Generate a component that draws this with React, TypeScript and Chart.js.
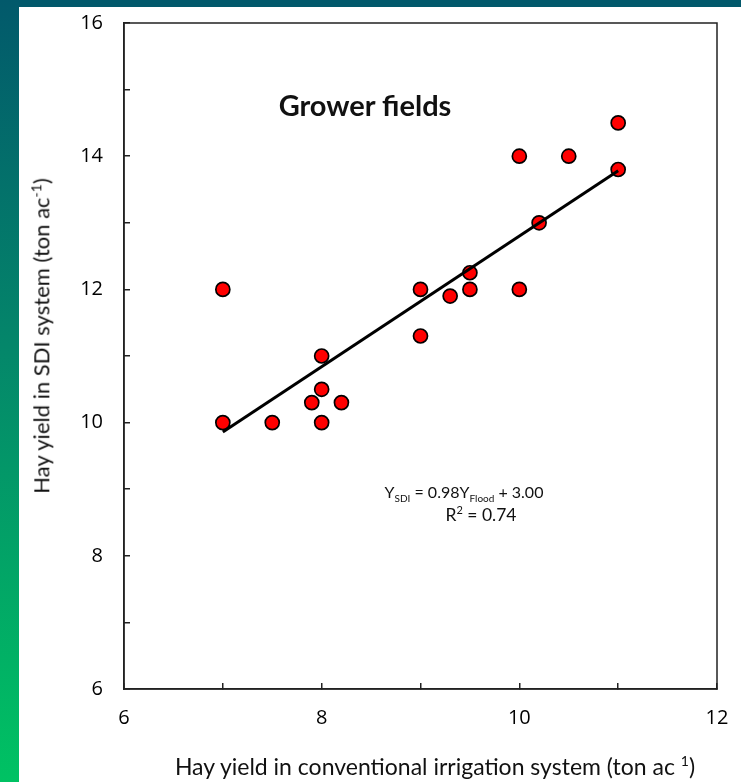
import React, { useEffect, useRef } from "react";
import { Chart, registerables } from "chart.js";

Chart.register(...registerables);

const flood = [7, 7, 7.5, 7.9, 8, 8, 8, 8.2, 9, 9, 9.3, 9.5, 9.5, 10, 10, 10.2, 10.5, 11, 11];
const sdi = [12, 10, 10, 10.3, 10, 10.5, 11, 10.3, 12, 11.3, 11.9, 12, 12.25, 12, 14, 13, 14, 14.5, 13.8];
const trendX = [7, 11];
const trendY = [9.86, 13.78];
const xTicks = [6, 8, 10, 12];
const yTicks = [6, 8, 10, 12, 14, 16];

const framePlugin = {
  id: "frame",
  afterDraw(chart: any) {
    const { ctx, chartArea } = chart;
    ctx.save();
    ctx.strokeStyle = "#222";
    ctx.lineWidth = 1.5;
    ctx.strokeRect(chartArea.left, chartArea.top, chartArea.right - chartArea.left, chartArea.bottom - chartArea.top);
    ctx.restore();
  },
};

export default function App() {
  const ref = useRef<HTMLCanvasElement>(null);
  useEffect(() => {
    const points = flood.map((x, i) => ({ x, y: sdi[i] }));
    const trend = trendX.map((x, i) => ({ x, y: trendY[i] }));
    const tickFont = { family: "Open Sans", size: 20 };
    const chart = new Chart(ref.current as HTMLCanvasElement, {
      type: "scatter",
      data: {
        datasets: [
          {
            type: "line",
            data: trend,
            borderColor: "#000",
            borderWidth: 3,
            pointRadius: 0,
            fill: false,
          },
          {
            data: points,
            backgroundColor: "#ff0000",
            borderColor: "#000",
            borderWidth: 1.7,
            pointRadius: 7,
          },
        ],
      } as any,
      options: {
        animation: false,
        responsive: false,
        layout: { padding: { left: 19, top: 23, right: 24, bottom: 0 } },
        plugins: { legend: { display: false }, tooltip: { enabled: false } },
        scales: {
          x: {
            type: "linear",
            min: 6,
            max: 12,
            afterFit: (s: any) => {
              s.height = 93;
              s.paddingLeft = 0;
              s.paddingRight = 0;
            },
            afterBuildTicks: (s: any) => {
              const t = [];
              for (let v = 6; v <= 12; v += 1) t.push({ value: v });
              s.ticks = t;
            },
            ticks: {
              font: tickFont,
              color: "#000",
              padding: 23,
              maxRotation: 0,
              callback: (v: any) => (xTicks.includes(Number(v)) ? String(v) : ""),
            },
            grid: { drawOnChartArea: false, drawTicks: true, tickLength: -6, color: "#222", lineWidth: 1.5 },
            border: { display: true, color: "#222", width: 1.5 },
          },
          y: {
            type: "linear",
            min: 6,
            max: 16,
            afterFit: (s: any) => {
              s.width = 105;
              s.paddingTop = 0;
              s.paddingBottom = 0;
            },
            afterBuildTicks: (s: any) => {
              const t = [];
              for (let v = 6; v <= 16; v += 1) t.push({ value: v });
              s.ticks = t;
            },
            ticks: {
              font: tickFont,
              color: "#000",
              padding: 27,
              callback: (v: any) => (yTicks.includes(Number(v)) ? String(v) : ""),
            },
            grid: { drawOnChartArea: false, drawTicks: true, tickLength: -6, color: "#222", lineWidth: 1.5 },
            border: { display: true, color: "#222", width: 1.5 },
          },
        },
      } as any,
      plugins: [framePlugin],
    });
    return () => chart.destroy();
  }, []);

  const txt: React.CSSProperties = {
    position: "absolute",
    transform: "translate(-50%, -50%)",
    fontFamily: "Lato",
    whiteSpace: "nowrap",
    color: "#111",
  };

  return (
    <div style={{ position: "fixed", left: 0, top: 0, width: 741, height: 782, background: "#fff", overflow: "hidden" }}>
      <div style={{ position: "absolute", left: 0, top: 0, width: 741, height: 7, background: "#02596b" }} />
      <div
        style={{
          position: "absolute",
          left: 0,
          top: 0,
          width: 19,
          height: 782,
          background: "linear-gradient(to bottom, #02596b 0%, #04876a 45%, #00c263 100%)",
        }}
      />
      <canvas ref={ref} width={741} height={782} style={{ position: "absolute", left: 0, top: 0 }} />
      <div style={{ ...txt, left: 365, top: 104, fontWeight: "bold", fontSize: 29 }}>Grower fields</div>
      <div style={{ ...txt, left: 464, top: 493, fontSize: 16 }}>
        Y<sub style={{ fontSize: 10 }}>SDI</sub> = 0.98Y<sub style={{ fontSize: 10 }}>Flood</sub> + 3.00
      </div>
      <div style={{ ...txt, left: 481, top: 514, fontSize: 17.5 }}>
        R<sup style={{ fontSize: 11 }}>2</sup> = 0.74
      </div>
      <div style={{ ...txt, left: 435, top: 766, fontSize: 23 }}>
        Hay yield in conventional irrigation system (ton ac <sup style={{ fontSize: 14 }}>1</sup>)
      </div>
      <div style={{ ...txt, left: 41, top: 336, fontSize: 22, transform: "translate(-50%, -50%) rotate(-90deg)" }}>
        Hay yield in SDI system (ton ac<sup style={{ fontSize: 14 }}>-1</sup>)
      </div>
    </div>
  );
}
